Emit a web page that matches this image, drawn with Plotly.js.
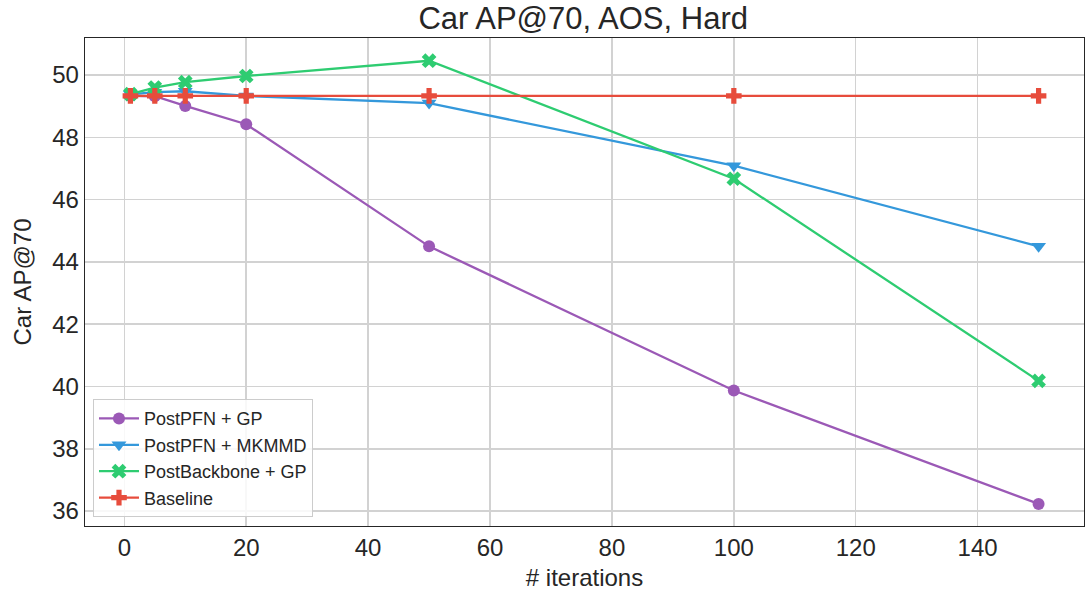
<!DOCTYPE html>
<html><head><meta charset="utf-8">
<script src="https://cdn.plot.ly/plotly-3.0.1.min.js"></script>
<style>html,body{margin:0;padding:0;background:#fff}#chart{width:1086px;height:592px}</style>
</head><body><div id="chart"></div>
<script>
const iterations = [1, 5, 10, 20, 50, 100, 150];
const postPfnGp = [49.33, 49.32, 49.01, 48.42, 44.50, 39.87, 36.23];
const postPfnMkmmd = [49.38, 49.45, 49.48, 49.33, 49.10, 47.09, 44.50];
const postBackboneGp = [49.39, 49.60, 49.77, 49.97, 50.46, 46.67, 40.18];
const baseline = [49.33, 49.33, 49.33, 49.33, 49.33, 49.33, 49.33];
const seriesNames = ["PostPFN + GP", "PostPFN + MKMMD", "PostBackbone + GP", "Baseline"];
const xTicks = [0, 20, 40, 60, 80, 100, 120, 140];
const yTicks = [36, 38, 40, 42, 44, 46, 48, 50];

const colors = ["#9b59b6", "#3498db", "#2ecc71", "#e74c3c"];
const symbols = ["circle", "triangle-down", "x", "cross"];
const sizes = [12, 13, 13, 13];
const data = [postPfnGp, postPfnMkmmd, postBackboneGp, baseline].map((ys, i) => ({
  x: iterations, y: ys, name: seriesNames[i], type: "scatter", mode: "lines+markers",
  line: {color: colors[i], width: 2.3},
  marker: {color: colors[i], symbol: symbols[i], size: sizes[i], line: {width: 0}}
}));

const font = "Liberation Sans, Arial, sans-serif";
const ink = "#262626";
const grid = "#d2d2d2";
const layout = {
  width: 1086, height: 592,
  margin: {l: 85, r: 2, t: 38, b: 66},
  paper_bgcolor: "#fff", plot_bgcolor: "#fff",
  font: {family: font, color: ink},
  title: {text: "Car AP@70, AOS, Hard", x: 0.537, xanchor: "center", y: 0.9695, yanchor: "middle", automargin: false, font: {size: 31, family: font, color: ink}},
  xaxis: {
    range: [-6.45, 157.45], tickvals: xTicks, ticktext: xTicks.map(String),
    showgrid: true, gridcolor: grid, gridwidth: 1.5, zeroline: false,
    showline: true, linecolor: ink, linewidth: 1.3, mirror: true, automargin: false,
    ticks: "", tickfont: {size: 24, family: font, color: ink},
    title: {text: "# iterations", font: {size: 24, family: font, color: ink}, standoff: 9}
  },
  yaxis: {
    range: [35.52, 51.19], tickvals: yTicks, ticktext: yTicks.map(String),
    showgrid: true, gridcolor: grid, gridwidth: 1.5, zeroline: false,
    showline: true, linecolor: ink, linewidth: 1.3, mirror: true, automargin: false,
    ticks: "", tickfont: {size: 24, family: font, color: ink},
    title: {text: "Car AP@70", font: {size: 24, family: font, color: ink}, standoff: 13}
  },
  legend: {
    x: 0.008, y: 0.018, xanchor: "left", yanchor: "bottom",
    bgcolor: "rgba(255,255,255,0.85)", bordercolor: "#cccccc", borderwidth: 1,
    font: {size: 18, family: font, color: ink}, tracegroupgap: 0, itemwidth: 40
  },
  showlegend: true
};
Plotly.newPlot("chart", data, layout, {displayModeBar: false, staticPlot: true});
</script></body></html>
